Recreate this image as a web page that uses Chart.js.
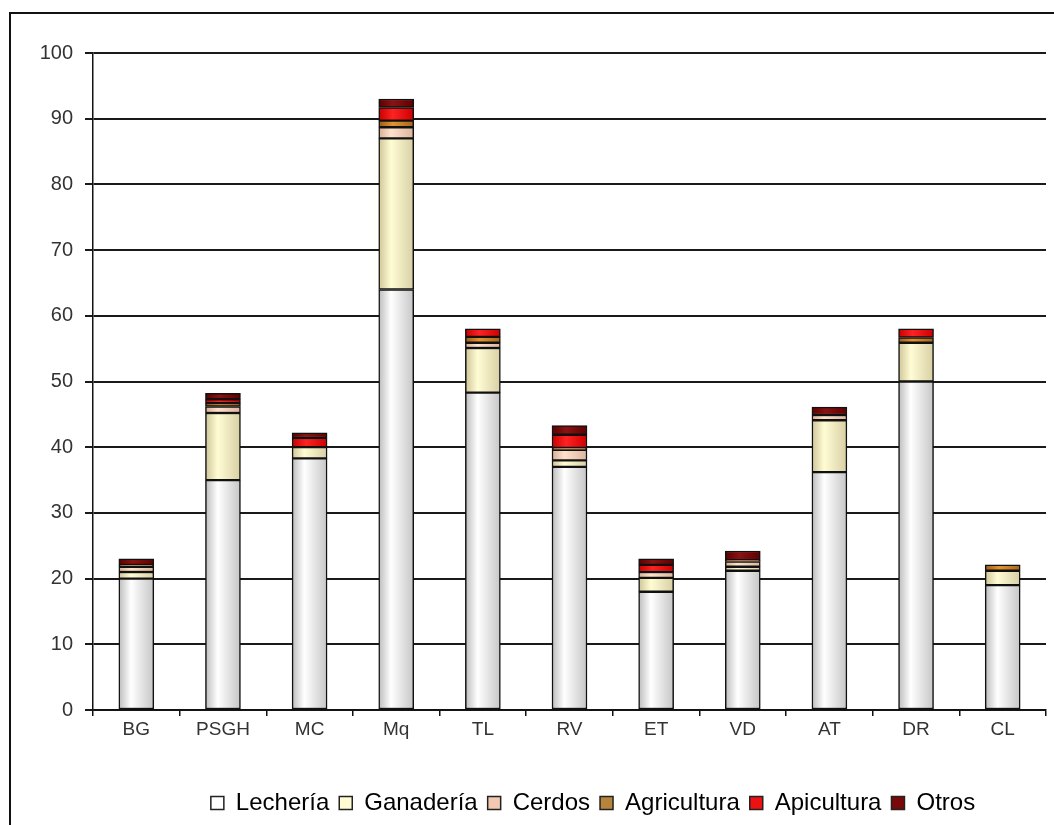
<!DOCTYPE html>
<html>
<head>
<meta charset="utf-8">
<script src="https://cdn.jsdelivr.net/npm/chart.js@4/dist/chart.umd.min.js"></script>
<style>
  html, body { margin: 0; padding: 0; background: #fff; }
  #wrap { position: relative; width: 1054px; height: 825px; overflow: hidden; }
  #frame { position: absolute; left: 9px; top: 12px; width: 1100px; height: 900px;
           border-left: 2px solid #111; border-top: 2px solid #111; }
  canvas { position: absolute; left: 0; top: 0; }
</style>
</head>
<body>
<div id="wrap">
  <div id="frame"></div>
  <canvas id="chart" width="1054" height="825"></canvas>
</div>
<script>
// Zones
const categories = ['BG', 'PSGH', 'MC', 'Mq', 'TL', 'RV', 'ET', 'VD', 'AT', 'DR', 'CL'];

// Stacked activity shares per zone
const lecheria    = [20, 35, 38.3, 64, 48.3, 37, 18, 21.2, 36.2, 50, 19];
const ganaderia   = [1, 10.2, 1.7, 23, 6.8, 1, 2.1, 0.6, 7.9, 5.9, 2.2];
const cerdos      = [0.8, 1, 0, 1.7, 0.8, 1.6, 0.9, 0.8, 0.8, 0, 0];
const agricultura = [0.3, 0.5, 0, 1, 0.9, 0.3, 0, 0.2, 0, 0.8, 0.9];
const apicultura  = [0, 0.6, 1.4, 2, 1.2, 2, 1.1, 0, 0, 1.3, 0];
const otros       = [0.9, 0.9, 0.8, 1.3, 0, 1.4, 0.9, 1.4, 1.2, 0, 0];

const seriesNames = ['Lechería', 'Ganadería', 'Cerdos', 'Agricultura', 'Apicultura', 'Otros'];
const yTicks = [0, 10, 20, 30, 40, 50, 60, 70, 80, 90, 100];

const BAR_W = 35;

// Cylinder-like horizontal shading for each series
const shades = [
  [[0, '#bcbcbc'], [0.35, '#ffffff'], [1, '#c6c6c6']],
  [[0, '#cfc598'], [0.35, '#fffcd4'], [1, '#d8cfa4']],
  [[0, '#d8ad94'], [0.35, '#ffe2cc'], [1, '#dbb49e']],
  [[0, '#9c5a1c'], [0.4, '#e39430'], [1, '#a6661f']],
  [[0, '#c80000'], [0.4, '#ff2222'], [1, '#cc0000']],
  [[0, '#5a0000'], [0.4, '#8c1212'], [1, '#5e0000']]
];
const legendFill = ['#ffffff', '#fffcd4', '#f2c8b0', '#b8843c', '#ee1111', '#7a0808'];

function shade(stops) {
  return (c) => {
    const chart = c.chart;
    if (!chart.chartArea || c.dataIndex === undefined) return stops[1][1];
    const x = chart.scales.x.getPixelForValue(c.dataIndex);
    const g = chart.ctx.createLinearGradient(x - BAR_W / 2, 0, x + BAR_W / 2, 0);
    stops.forEach(([o, col]) => g.addColorStop(o, col));
    return g;
  };
}

const values = [lecheria, ganaderia, cerdos, agricultura, apicultura, otros];
const datasets = values.map((v, i) => ({
  label: seriesNames[i],
  data: v,
  backgroundColor: shade(shades[i]),
  borderColor: '#111',
  borderWidth: 1.5,
  borderSkipped: false,
  barThickness: BAR_W
}));

const font = { family: 'Liberation Sans, Arial, sans-serif', size: 19 };

// Legend row sits a little right of the canvas centre
const legendShift = {
  id: 'legendShift',
  afterLayout(chart) {
    const lg = chart.legend;
    if (lg) { lg.left += 70; lg.right += 70; }
  }
};

new Chart(document.getElementById('chart'), {
  type: 'bar',
  data: { labels: categories, datasets },
  plugins: [legendShift],
  options: {
    responsive: false,
    animation: false,
    layout: { padding: { left: 0, top: 53, right: 8, bottom: 0 } },
    scales: {
      x: {
        stacked: true,
        offset: true,
        grid: { display: true, drawOnChartArea: false, drawTicks: true, tickLength: 6,
                color: '#111', lineWidth: 1.5, offset: true },
        border: { color: '#111', width: 1.5 },
        ticks: { color: '#333', font, padding: 2, maxRotation: 0 },
        afterFit: (s) => { s.height = 71; }
      },
      y: {
        stacked: true,
        min: 0,
        max: 100,
        afterBuildTicks: (s) => { s.ticks = yTicks.map(v => ({ value: v })); },
        grid: { color: '#1a1a1a', lineWidth: 2, tickLength: 8 },
        border: { color: '#111', width: 1.5 },
        ticks: { color: '#333', font: { family: font.family, size: 20 }, padding: 12 },
        afterFit: (s) => { s.width = 93; }
      }
    },
    plugins: {
      tooltip: { enabled: false },
      legend: {
        position: 'bottom',
        labels: {
          color: '#222',
          font: { family: font.family, size: 24 },
          boxWidth: 13,
          boxHeight: 13,
          padding: 10,
          generateLabels: (chart) => chart.data.datasets.map((d, i) => ({
            text: d.label,
            fillStyle: legendFill[i],
            strokeStyle: '#222',
            lineWidth: 1.5,
            hidden: false,
            datasetIndex: i
          }))
        }
      }
    }
  }
});
</script>
</body>
</html>
